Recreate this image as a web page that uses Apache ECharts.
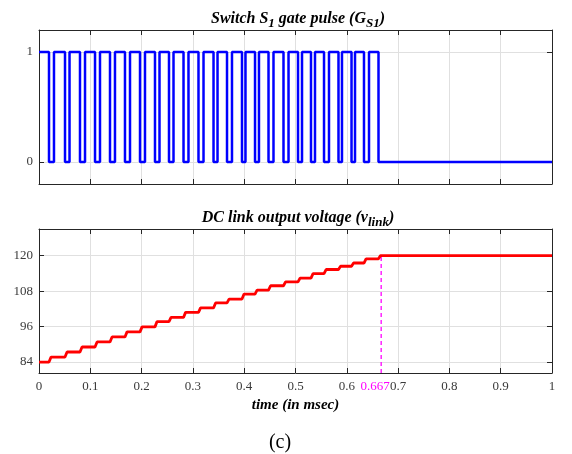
<!DOCTYPE html>
<html>
<head>
<meta charset="utf-8">
<script src="https://cdn.jsdelivr.net/npm/echarts@6/dist/echarts.min.js"></script>
<style>
  html, body { margin: 0; padding: 0; background: #fff; }
  #chart { width: 572px; height: 454px; }
</style>
</head>
<body>
<div id="chart"></div>
<script>
// Switch S1 gate signal: turn-on and turn-off instants (ms)
const gateRise = [0, 0.0292, 0.0595, 0.0897, 0.1189, 0.1481, 0.1774, 0.2066, 0.2349, 0.2622,
  0.2914, 0.3207, 0.3480, 0.3762, 0.4025, 0.4288, 0.4571, 0.4864, 0.5127, 0.5380,
  0.5653, 0.5906, 0.6160, 0.6433];
const gateFall = [0.0195, 0.0507, 0.0799, 0.1092, 0.1384, 0.1676, 0.1969, 0.2261, 0.2534, 0.2817,
  0.3109, 0.3402, 0.3665, 0.3957, 0.4211, 0.4474, 0.4766, 0.5049, 0.5302, 0.5556,
  0.5838, 0.6092, 0.6335, 0.6618];
// DC link voltage plateaus (V): level k holds after the k-th turn-off
const linkLevels = [84.0, 85.7, 87.4, 89.1, 90.8, 92.5, 94.2, 95.9, 97.7, 99.1,
  100.8, 102.3, 104.0, 105.3, 107.0, 108.3, 109.8, 111.1, 112.4, 113.9,
  115.3, 116.4, 117.5, 118.9, 120.0];
const settleTime = 0.667;   // instant the link voltage reaches its final value
const timeLabels = [0, 0.1, 0.2, 0.3, 0.4, 0.5, 0.6, 0.667, 0.7, 0.8, 0.9, 1];
const gateTicks = [0, 1];
const voltTicks = [84, 96, 108, 120];

// rise time of each voltage step (ms)
const stepRamp = 0.004;

const gateData = [[0, 1]];
gateFall.forEach((tf, k) => {
  gateData.push([tf, 1], [tf, 0]);
  if (k + 1 < gateRise.length) {
    gateData.push([gateRise[k + 1], 0], [gateRise[k + 1], 1]);
  }
});
gateData.push([1, 0]);

const linkData = [[0, linkLevels[0]]];
gateFall.forEach((tf, k) => {
  linkData.push([tf, linkLevels[k]], [tf + stepRamp, linkLevels[k + 1]]);
});
linkData.push([1, linkLevels[linkLevels.length - 1]]);

const SERIF = '"Liberation Serif", "DejaVu Serif", serif';
const axisColor = '#262626';
const gridColor = '#e0e0e0';
const labelColor = '#3a3a3a';

const titleRich = {
  a: { fontFamily: SERIF, fontSize: 16, fontWeight: 'bold', fontStyle: 'italic', color: '#000', lineHeight: 18, verticalAlign: 'top' },
  s: { fontFamily: SERIF, fontSize: 13, fontWeight: 'bold', fontStyle: 'italic', color: '#000', lineHeight: 18, verticalAlign: 'top', padding: [6, 0, 0, 0] }
};

const boxLine = { show: true, onZero: false, lineStyle: { color: axisColor, width: 1 } };

function xAxisPair(gridIndex, withLabels) {
  const bottom = {
    type: 'value', gridIndex, position: 'bottom', min: 0, max: 1, interval: 0.1,
    axisLine: boxLine,
    axisTick: { show: true, inside: true, length: 5, lineStyle: { color: axisColor } },
    splitLine: { show: true, lineStyle: { color: gridColor, width: 1 } },
    axisLabel: { show: false }
  };
  if (withLabels) {
    bottom.axisLabel = {
      show: true, customValues: timeLabels, margin: 7,
      fontFamily: SERIF, fontSize: 13, color: labelColor,
      formatter: v => (v === settleTime ? '{m|' + v + '}' : String(v)),
      rich: { m: { fontFamily: SERIF, fontSize: 13, color: '#ff00ff', padding: [0, 12, 0, 0] } }
    };
    bottom.name = 'time (in msec)';
    bottom.nameLocation = 'middle';
    bottom.nameGap = 25;
    bottom.nameTextStyle = { fontFamily: SERIF, fontSize: 15, fontWeight: 'bold', fontStyle: 'italic', color: '#000' };
  }
  const top = {
    type: 'value', gridIndex, position: 'top', min: 0, max: 1, interval: 0.1,
    axisLine: boxLine,
    axisTick: { show: true, inside: true, length: 5, lineStyle: { color: axisColor } },
    splitLine: { show: false },
    axisLabel: { show: false }
  };
  return [bottom, top];
}

function yAxisPair(gridIndex, min, max, ticks) {
  const left = {
    type: 'value', gridIndex, position: 'left', min, max,
    axisLine: boxLine,
    axisTick: { show: true, inside: true, length: 5, customValues: ticks, lineStyle: { color: axisColor } },
    splitLine: { show: true, lineStyle: { color: gridColor, width: 1 } },
    axisLabel: { show: true, customValues: ticks, margin: 6, fontFamily: SERIF, fontSize: 13, color: labelColor }
  };
  const right = {
    type: 'value', gridIndex, position: 'right', min, max,
    axisLine: boxLine,
    axisTick: { show: true, inside: true, length: 5, customValues: ticks, lineStyle: { color: axisColor } },
    splitLine: { show: false },
    axisLabel: { show: false }
  };
  return [left, right];
}

const chart = echarts.init(document.getElementById('chart'), null, { renderer: 'canvas' });
chart.setOption({
  animation: false,
  backgroundColor: '#fff',
  title: [
    { text: '{a|Switch S}{s|1}{a| gate pulse (G}{s|S1}{a|)}', left: 293, top: 6, textAlign: 'center',
      textStyle: { rich: titleRich } },
    { text: '{a|DC link output voltage (v}{s|link}{a|)}', left: 293, top: 205, textAlign: 'center',
      textStyle: { rich: titleRich } },
    { text: '(c)', left: 275, top: 428, textAlign: 'center',
      textStyle: { fontFamily: SERIF, fontSize: 20, fontWeight: 'normal', color: '#000' } }
  ],
  grid: [
    { left: 39, right: 20, top: 30, height: 154 },
    { left: 39, right: 20, top: 229, height: 144 }
  ],
  xAxis: [...xAxisPair(0, false), ...xAxisPair(1, true)],
  yAxis: [...yAxisPair(0, -0.2, 1.2, gateTicks), ...yAxisPair(1, 80.3, 129, voltTicks)],
  series: [
    { type: 'line', xAxisIndex: 0, yAxisIndex: 0, data: gateData, showSymbol: false, symbol: 'none',
      lineStyle: { color: '#0000ff', width: 2.5 }, z: 3 },
    { type: 'line', xAxisIndex: 2, yAxisIndex: 2, data: [[settleTime, 80.3], [settleTime, 120]],
      showSymbol: false, symbol: 'none',
      lineStyle: { color: '#ff00ff', width: 1.3, type: [4, 3] }, z: 2 },
    { type: 'line', xAxisIndex: 2, yAxisIndex: 2, data: linkData, showSymbol: false, symbol: 'none',
      lineStyle: { color: '#ff0000', width: 2.8 }, z: 3 }
  ]
});
</script>
</body>
</html>
